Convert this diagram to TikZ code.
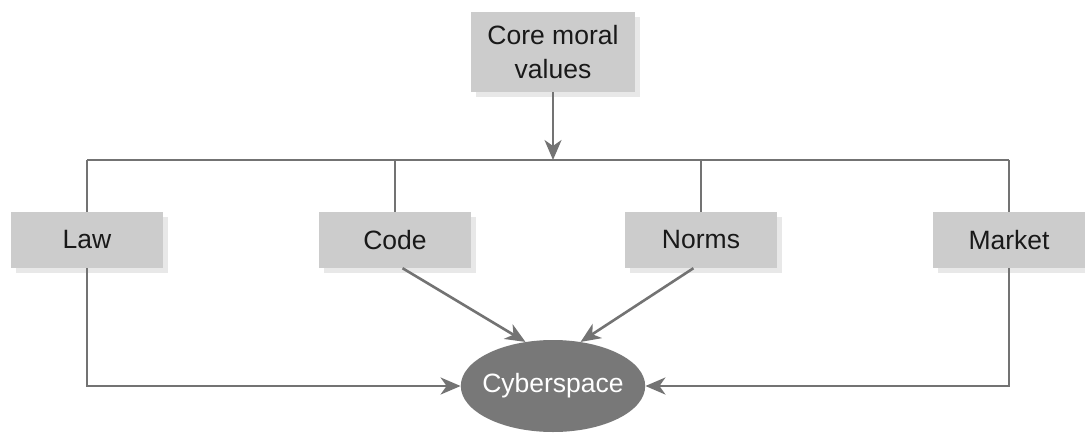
\documentclass[tikz,border=0pt]{standalone}
\usepackage{fontspec}
\setmainfont{Liberation Sans}
\usetikzlibrary{shapes.geometric,arrows.meta,shadows}
\definecolor{boxgray}{gray}{0.80}
\definecolor{shadowgray}{gray}{0.91}
\definecolor{linegray}{gray}{0.45}
\definecolor{ellgray}{gray}{0.47}
\tikzset{
  box/.style={rectangle, fill=boxgray, minimum width=152pt, minimum height=56pt, inner sep=0pt,
    font=\fontsize{26.5}{34}\selectfont, text=black!90,
    drop shadow={shadow xshift=5pt, shadow yshift=-5pt, fill=shadowgray, opacity=1}},
  conn/.style={draw=linegray, line width=2.6pt},
  arr/.style={conn, -{Stealth[length=20pt, width=17pt, inset=6pt]}},
}
\begin{document}
\begin{tikzpicture}[x=1pt, y=-1pt]
\useasboundingbox (0,0) rectangle (1085,440);
\node[box, minimum width=164pt, minimum height=80pt, align=center] (core) at (553,52) {Core moral\\values};
\node[box] (law) at (87,240) {Law};
\node[box] (code) at (395,240) {Code};
\node[box] (norms) at (701,240) {Norms};
\node[box] (market) at (1009,240) {Market};
\node[ellipse, fill=ellgray, minimum width=183pt, minimum height=92pt, inner ysep=0pt, inner xsep=-5.5pt,
  font=\fontsize{26.5}{30}\selectfont, text=white] (cyber) at (553,386) {Cyberspace};
\coordinate (busL) at (87,160);
\coordinate (busR) at (1009,160);
\coordinate (busC) at (553,160);
\draw[conn] (busL) -- (busR);
\draw[arr] (core.south) -- (busC);
\draw[conn] (busL) -- (law.north);
\draw[conn] (code.north |- busL) -- (code.north);
\draw[conn] (norms.north |- busL) -- (norms.north);
\draw[conn] (busR) -- (market.north);
\draw[arr] (law.south) |- (cyber.west);
\draw[arr] (market.south) |- (cyber.east);
\draw[arr] (code.-75) -- (cyber.122);
\draw[arr] (norms.-105) -- (cyber.58);
\end{tikzpicture}
\end{document}
